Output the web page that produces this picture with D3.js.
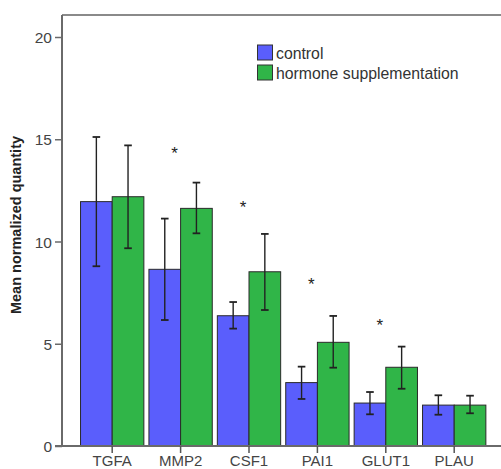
<!DOCTYPE html>
<html>
<head>
<meta charset="utf-8">
<script src="https://cdn.jsdelivr.net/npm/d3@7"></script>
<style>
  html, body { margin: 0; padding: 0; background: #fff; }
  svg { display: block; }
  text { font-family: Arial, "Liberation Sans", sans-serif; fill: #333; }
</style>
</head>
<body>
<svg id="chart" width="501" height="469"></svg>
<script>
// Genes on the x axis
const genes = ["TGFA", "MMP2", "CSF1", "PAI1", "GLUT1", "PLAU"];
const groups = ["control", "hormone supplementation"];

// Mean normalized quantity per group
const controlMean = [11.95, 8.64, 6.37, 3.10, 2.10, 2.00];
const hormoneMean = [12.19, 11.62, 8.52, 5.07, 3.85, 2.00];

// Error bar bounds (low / high)
const controlLow  = [8.79, 6.16, 5.74, 2.30, 1.55, 1.53];
const controlHigh = [15.11, 11.12, 7.04, 3.88, 2.64, 2.48];
const hormoneLow  = [9.67, 10.40, 6.65, 3.83, 2.80, 1.60];
const hormoneHigh = [14.70, 12.88, 10.37, 6.36, 4.86, 2.46];

// Significance markers: level of the asterisk (null = none)
const starLevel = [null, 14.52, 11.90, 8.12, 6.11, null];

const yTicks = [0, 5, 10, 15, 20];
const colors = ["#5a5efc", "#30b548"];

const svg = d3.select("#chart");
const mLeft = 62, mTop = 15, mBottom = 446, mRight = 520;

const y = d3.scaleLinear().domain([0, 20]).range([mBottom, 37]);
const x = d3.scaleBand().domain(genes).range([78, 488.4]).paddingInner(0).paddingOuter(0);
const xg = d3.scaleBand().domain(groups).range([0, x.bandwidth()]).paddingOuter(0.08).paddingInner(0);

const rows = genes.map((g, i) => ({
  gene: g,
  vals: [
    { group: groups[0], mean: controlMean[i], lo: controlLow[i], hi: controlHigh[i] },
    { group: groups[1], mean: hormoneMean[i], lo: hormoneLow[i], hi: hormoneHigh[i] }
  ],
  star: starLevel[i]
}));

// Frame: top border
svg.append("line")
  .attr("x1", mLeft).attr("x2", mRight).attr("y1", mTop).attr("y2", mTop)
  .attr("stroke", "#8a8a8a").attr("stroke-width", 2);

// Bars
const gGroups = svg.append("g").selectAll("g").data(rows).join("g")
  .attr("transform", d => `translate(${x(d.gene)},0)`);

gGroups.selectAll("rect").data(d => d.vals).join("rect")
  .attr("x", d => xg(d.group))
  .attr("y", d => y(d.mean))
  .attr("width", xg.bandwidth())
  .attr("height", d => y(0) - y(d.mean))
  .attr("fill", (d, i) => colors[i])
  .attr("stroke", "#2a2a2a").attr("stroke-width", 1);

// Error bars
const eb = gGroups.selectAll("g.err").data(d => d.vals).join("g").attr("class", "err")
  .attr("transform", d => `translate(${xg(d.group) + xg.bandwidth() / 2},0)`);
eb.append("line").attr("y1", d => y(d.lo)).attr("y2", d => y(d.hi))
  .attr("stroke", "#222").attr("stroke-width", 1.4);
eb.append("line").attr("x1", -3.8).attr("x2", 3.8).attr("y1", d => y(d.hi)).attr("y2", d => y(d.hi))
  .attr("stroke", "#222").attr("stroke-width", 1.8);
eb.append("line").attr("x1", -3.8).attr("x2", 3.8).attr("y1", d => y(d.lo)).attr("y2", d => y(d.lo))
  .attr("stroke", "#222").attr("stroke-width", 1.8);

// Asterisks
svg.append("g").selectAll("text").data(rows.filter(d => d.star != null)).join("text")
  .attr("x", d => x(d.gene) + x.bandwidth() / 2 - 6)
  .attr("y", d => y(d.star) + 10)
  .attr("text-anchor", "middle")
  .style("font-size", "17px").style("fill", "#222")
  .text("*");

// Y axis
const yAxis = svg.append("g").attr("transform", `translate(${mLeft},0)`)
  .call(d3.axisLeft(y).tickValues(yTicks).tickSize(7).tickPadding(3));
yAxis.select(".domain").attr("d", `M0,${mTop}V${mBottom}`).attr("stroke", "#6a6a6a").attr("stroke-width", 2);
yAxis.selectAll(".tick line").attr("stroke", "#6a6a6a").attr("stroke-width", 1.5);
yAxis.selectAll(".tick text").style("font-size", "15.5px").style("fill", "#444").attr("dy", "0.36em")
  .style("font-family", "Arial, 'Liberation Sans', sans-serif");

// X axis
const xAxis = svg.append("g").attr("transform", `translate(0,${mBottom})`)
  .call(d3.axisBottom(x).tickSize(7).tickPadding(2));
xAxis.select(".domain").attr("d", `M${mLeft - 7},0H${mRight}`).attr("stroke", "#6a6a6a").attr("stroke-width", 2);
xAxis.selectAll(".tick line").attr("stroke", "#555").attr("stroke-width", 1.5);
xAxis.selectAll(".tick text").style("font-size", "15px").style("fill", "#444")
  .style("font-family", "Arial, 'Liberation Sans', sans-serif");

// Y axis title
svg.append("text")
  .attr("transform", "translate(21,225) rotate(-90)")
  .attr("text-anchor", "middle")
  .style("font-size", "14.5px").style("font-weight", "bold").style("fill", "#222")
  .text("Mean normalized quantity");

// Legend
const legend = svg.append("g").attr("transform", "translate(257.5,45)");
const li = legend.selectAll("g").data(groups).join("g")
  .attr("transform", (d, i) => `translate(0,${i * 20})`);
li.append("rect").attr("width", 15).attr("height", 15)
  .attr("fill", (d, i) => colors[i]).attr("stroke", "#333").attr("stroke-width", 1);
li.append("text").attr("x", 18.5).attr("y", 13.5)
  .style("font-size", "15.8px").style("fill", "#333").text(d => d);
</script>
</body>
</html>
